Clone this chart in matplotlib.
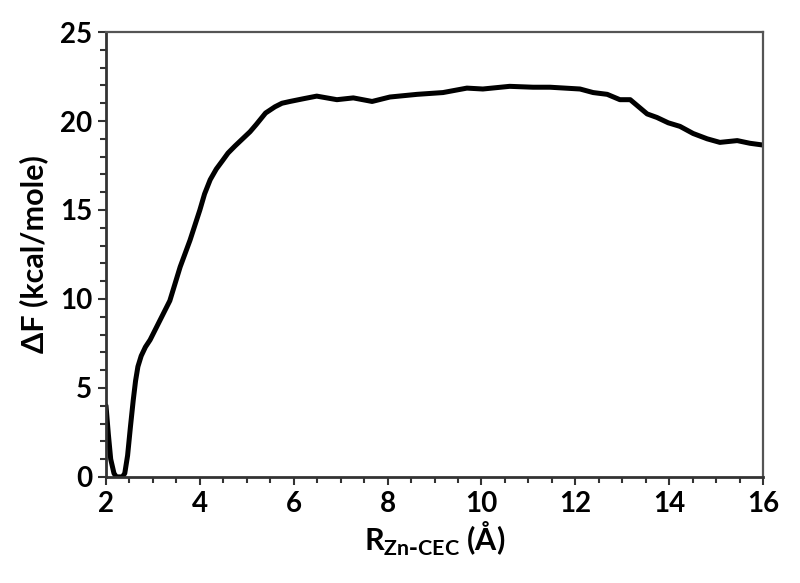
import matplotlib
matplotlib.use("Agg")
import matplotlib.pyplot as plt
from matplotlib.ticker import MultipleLocator

# free energy profile
r_vals = [2.0, 2.05, 2.1, 2.17, 2.22, 2.35, 2.4, 2.46, 2.52, 2.58, 2.63, 2.68,
          2.75, 2.84, 2.94, 3.15, 3.36, 3.58, 3.79, 4.0, 4.1, 4.22, 4.35, 4.49,
          4.6, 4.75, 5.07, 5.2, 5.4, 5.6, 5.75, 5.92, 6.2, 6.49, 6.92,
          7.27, 7.67, 8.05, 8.63, 9.18, 9.69, 10.03, 10.6, 11.1, 11.46, 12.1,
          12.38, 12.68, 12.95, 13.17, 13.53, 13.74, 13.98, 14.23, 14.51, 14.81,
          15.08, 15.45, 15.72, 16.0]
dF_vals = [4.0, 2.4, 1.0, 0.2, 0.0, 0.0, 0.2, 1.2, 2.8, 4.3, 5.4, 6.2,
           6.8, 7.3, 7.7, 8.8, 9.9, 11.8, 13.3, 15.0, 15.9, 16.7, 17.3, 17.8,
           18.2, 18.6, 19.4, 19.8, 20.45, 20.8, 21.0, 21.1, 21.25, 21.4, 21.2,
           21.3, 21.1, 21.35, 21.5, 21.6, 21.85, 21.8, 21.95, 21.9, 21.9, 21.8,
           21.6, 21.5, 21.2, 21.2, 20.4, 20.2, 19.9, 19.7, 19.3, 19.0,
           18.8, 18.9, 18.75, 18.65]

plt.rcParams['font.family'] = ['Lato', 'DejaVu Sans']
plt.rcParams['font.weight'] = 'bold'

fig = plt.figure(figsize=(8, 5.83), dpi=100)
ax = fig.add_axes([0.1325, 0.182, 0.8213, 0.763])

ax.plot(r_vals, dF_vals, color='black', lw=3.6, solid_joinstyle='round',
        solid_capstyle='round')

ax.set_xlim(2, 16)
ax.set_ylim(0, 25)
ax.xaxis.set_major_locator(MultipleLocator(2))
ax.xaxis.set_minor_locator(MultipleLocator(0.5))
ax.yaxis.set_major_locator(MultipleLocator(5))
ax.yaxis.set_minor_locator(MultipleLocator(1))

ax.tick_params(which='both', direction='out', top=False, right=False,
               labelsize=20, width=1.5, color='#333333')
ax.tick_params(which='major', length=6, pad=4)
ax.tick_params(which='minor', length=4)
for lab in ax.get_xticklabels() + ax.get_yticklabels():
    lab.set_fontweight('bold')

for s in ['left', 'bottom']:
    ax.spines[s].set_linewidth(2)
    ax.spines[s].set_color('#333333')
for s in ['top', 'right']:
    ax.spines[s].set_linewidth(1.6)
    ax.spines[s].set_color('#555555')

ax.set_ylabel('ΔF (kcal/mole)', fontsize=22, fontweight='bold', labelpad=8)
ax.set_xlabel(r'R$_{\mathregular{Zn\text{-}CEC}}$ (Å)', fontsize=22,
              fontweight='bold', labelpad=2)

fig.savefig('out.png', dpi=100)
